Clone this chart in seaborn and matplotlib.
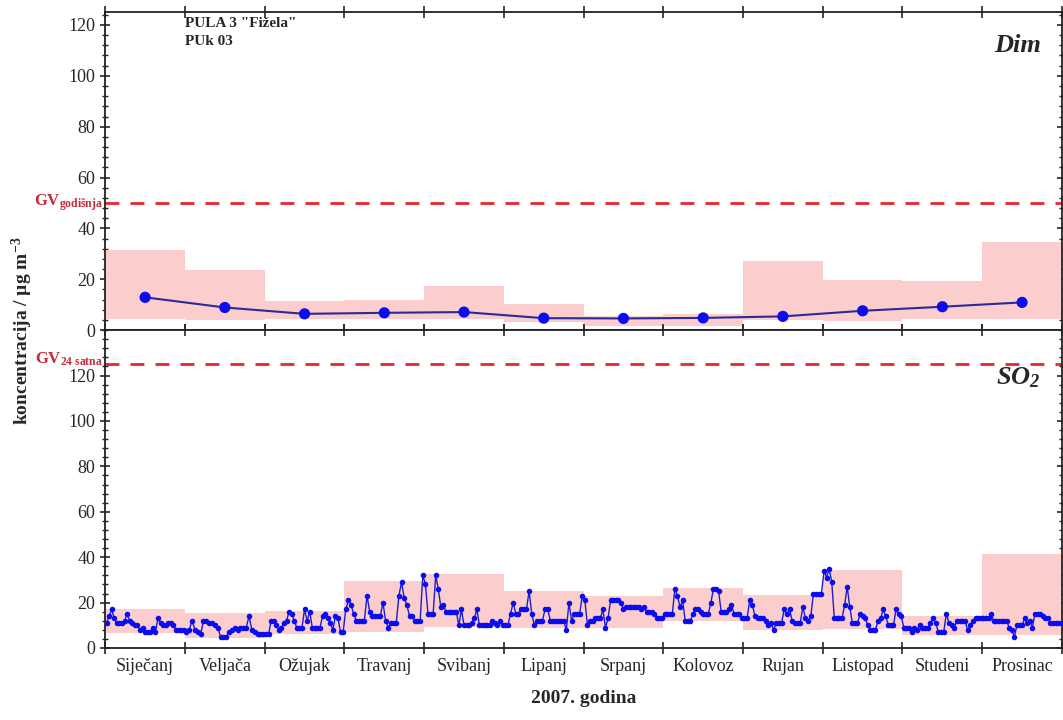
import numpy as np
import seaborn as sns
import matplotlib.pyplot as plt
from matplotlib.ticker import MultipleLocator, FixedLocator, NullFormatter

sns.set_style("ticks")
plt.rcParams['font.family'] = ['Liberation Serif', 'DejaVu Serif']
plt.rcParams['mathtext.fontset'] = 'custom'
plt.rcParams['mathtext.rm'] = 'Liberation Serif'
plt.rcParams['mathtext.it'] = 'Liberation Serif:italic'
plt.rcParams['mathtext.bf'] = 'Liberation Serif:bold'
plt.rcParams['mathtext.sf'] = 'Liberation Serif:italic:bold'

# mjeseci
mjeseci = ['Siječanj', 'Veljača', 'Ožujak', 'Travanj', 'Svibanj', 'Lipanj',
           'Srpanj', 'Kolovoz', 'Rujan', 'Listopad', 'Studeni', 'Prosinac']

# Dim - mjesečne srednje vrijednosti i rasponi
dim_mean = [12.9, 8.9, 6.4, 6.8, 7.1, 4.7, 4.6, 4.8, 5.4, 7.6, 9.2, 10.9]
dim_low = [4.3, 3.9, 4.3, 4.3, 4.3, 3.0, 1.5, 1.5, 3.9, 3.7, 4.2, 4.2]
dim_high = [31.6, 23.8, 11.5, 11.8, 17.5, 10.2, 5.5, 6.5, 27.2, 19.6, 19.2, 34.6]

# SO2 - mjesečni rasponi
so2_low = [6.8, 4.5, 6.0, 7.0, 9.4, 9.0, 9.0, 12.0, 8.0, 8.5, 5.8, 5.8]
so2_high = [17.1, 15.3, 16.1, 29.4, 32.5, 25.2, 22.8, 26.4, 23.5, 34.5, 13.9, 41.2]

# SO2 - dnevne vrijednosti
jan = [11, 14, 17, 13, 11, 11, 11, 12, 15, 12, 11, 10, 10, 8, 9, 7, 7, 7, 9, 7,
       13, 11, 10, 10, 11, 11, 10, 8, 8, 8, 8]
feb = [7, 8, 12, 8, 7, 6, 12, 12, 11, 11, 10, 9, 5, 5, 5, 7, 8, 9, 8, 9,
       9, 9, 14, 8, 7, 6, 6, 6]
mar = [6, 6, 12, 12, 10, 8, 9, 11, 12, 16, 15, 12, 9, 9, 9, 17, 12, 16, 9, 9,
       9, 9, 14, 15, 13, 11, 8, 14, 13, 7, 7]
apr = [17, 21, 19, 15, 12, 12, 12, 12, 23, 16, 14, 14, 14, 14, 20, 12, 9, 11, 11, 11,
       23, 29, 22, 19, 14, 14, 12, 12, 12, 32]
may = [28, 15, 15, 15, 32, 26, 18, 19, 16, 16, 16, 16, 16, 10, 17, 10, 10, 10, 11, 13,
       17, 10, 10, 10, 10, 10, 12, 11, 10, 12, 10]
jun = [10, 10, 15, 20, 15, 15, 17, 17, 17, 25, 15, 10, 12, 12, 12, 17, 17, 12, 12, 12,
       12, 12, 12, 8, 20, 12, 15, 15, 15, 23]
jul = [21, 10, 12, 12, 13, 13, 13, 17, 9, 13, 21, 21, 21, 21, 20, 17, 18, 18, 18, 18,
       18, 18, 17, 18, 16, 16, 16, 15, 13, 13, 13]
aug = [15, 15, 15, 15, 26, 23, 18, 21, 12, 12, 12, 15, 17, 17, 16, 15, 15, 15, 20, 26,
       26, 25, 16, 16, 16, 17, 19, 15, 15, 15, 13]
sep = [13, 13, 21, 19, 14, 13, 13, 13, 12, 10, 11, 8, 11, 11, 11, 17, 15, 17, 12, 11,
       11, 11, 18, 13, 12, 14, 24, 24, 24, 24]
oct_ = [34, 31, 35, 29, 13, 13, 13, 13, 19, 27, 18, 11, 11, 11, 15, 14, 13, 10, 8, 8,
        8, 12, 13, 17, 14, 10, 10, 10, 17, 15, 14]
nov = [9, 9, 9, 7, 9, 8, 10, 9, 9, 9, 11, 13, 11, 7, 7, 7, 15, 11, 10, 9,
       12, 12, 12, 12, 8, 10, 12, 13, 13, 13]
dec = [13, 13, 13, 15, 12, 12, 12, 12, 12, 12, 9, 8, 5, 10, 10, 10, 13, 11, 12, 9,
       15, 15, 15, 14, 13, 13, 11, 11, 11, 11, 11]
so2_dnevno = [jan, feb, mar, apr, may, jun, jul, aug, sep, oct_, nov, dec]

# x polozaji: svaki mjesec jednake sirine
x_dani, y_dani = [], []
for m, vals in enumerate(so2_dnevno):
    n = len(vals)
    x_dani += [m + (i + 0.5) / n for i in range(n)]
    y_dani += vals
centri = np.arange(12) + 0.5

pink = '#fbcdcd'
crvena = '#e8262b'
gv_boja = '#c4283a'

fig = plt.figure(figsize=(10.63, 7.2), dpi=100)
gs = fig.add_gridspec(2, 1, left=0.099, right=0.999, top=0.983, bottom=0.1, hspace=0)
ax1 = fig.add_subplot(gs[0])
ax2 = fig.add_subplot(gs[1], sharex=ax1)

# gornji panel - Dim
ax1.bar(np.arange(12), np.array(dim_high) - np.array(dim_low), bottom=dim_low,
        width=1, align='edge', color=pink, linewidth=0, zorder=1)
sns.lineplot(x=centri, y=dim_mean, ax=ax1, color='#2b2b98', linewidth=1.5, zorder=3)
sns.scatterplot(x=centri, y=dim_mean, ax=ax1, color='#0c0cf0', s=65, edgecolor='none', zorder=4)
ax1.axhline(50, color=crvena, linestyle=(0, (5, 4)), linewidth=2, zorder=2)
ax1.set_ylim(0, 125)

# donji panel - SO2
ax2.bar(np.arange(12), np.array(so2_high) - np.array(so2_low), bottom=so2_low,
        width=1, align='edge', color=pink, linewidth=0, zorder=1)
sns.lineplot(x=x_dani, y=y_dani, ax=ax2, color='#1c1cd0', linewidth=1.0, marker='o',
             markersize=4, markeredgewidth=0, markerfacecolor='#0c0cf0', zorder=3)
ax2.axhline(125, color=crvena, linestyle=(0, (5, 4)), linewidth=2, zorder=2)
ax2.set_ylim(0, 140)

for ax in (ax1, ax2):
    ax.set_xlim(0, 12)
    ax.yaxis.set_major_locator(FixedLocator([0, 20, 40, 60, 80, 100, 120]))
    ax.yaxis.set_minor_locator(MultipleLocator(4))
    ax.xaxis.set_major_locator(FixedLocator(np.arange(0, 13)))
    ax.xaxis.set_major_formatter(NullFormatter())
    ax.tick_params(axis='y', which='major', direction='inout', length=7, width=1.2,
                   labelsize=13, right=True, left=True)
    ax.tick_params(axis='y', which='minor', direction='inout', length=4, width=1,
                   right=True, left=True)
    ax.tick_params(axis='x', which='major', direction='inout', length=8, width=1.2,
                   top=True, bottom=True)
    for s in ax.spines.values():
        s.set_linewidth(1.3)
        s.set_color('#222222')
    ax.set_xlabel('')
    ax.set_ylabel('')

ax1.tick_params(axis='x', which='minor', length=0)
ax2.xaxis.set_minor_locator(FixedLocator(centri))
ax2.xaxis.set_minor_formatter(plt.FixedFormatter(mjeseci))
ax2.tick_params(axis='x', which='minor', length=0, labelsize=13, pad=7)

# tekstovi
ax1.text(1.0, 120.5, 'PULA 3 "Fižela"', fontsize=11, fontweight='bold', va='center')
ax1.text(1.0, 113.5, 'PUk 03', fontsize=11, fontweight='bold', va='center')
ax1.text(11.45, 112, 'Dim', fontsize=19, fontweight='bold', style='italic',
         ha='center', va='center')
ax2.text(11.45, 119, r'$\mathsf{SO}_{\mathsf{2}}$', fontsize=19, ha='center', va='center')

ax1.text(-0.002, 50, r'GV$_{\mathbf{godišnja}}$', transform=ax1.get_yaxis_transform(),
         color=gv_boja, fontsize=12, fontweight='bold', ha='right', va='center')
ax2.text(-0.002, 127, r'GV$_{\mathbf{24\ satna}}$', transform=ax2.get_yaxis_transform(),
         color=gv_boja, fontsize=12, fontweight='bold', ha='right', va='center')

fig.text(0.021, 0.54, r'koncentracija / µg m$^{\mathbf{-3}}$', rotation=90,
         fontsize=14, fontweight='bold', ha='center', va='center')
fig.text(0.549, 0.03, '2007. godina', fontsize=14, fontweight='bold',
         ha='center', va='center')

fig.savefig('out.png', dpi=100)
